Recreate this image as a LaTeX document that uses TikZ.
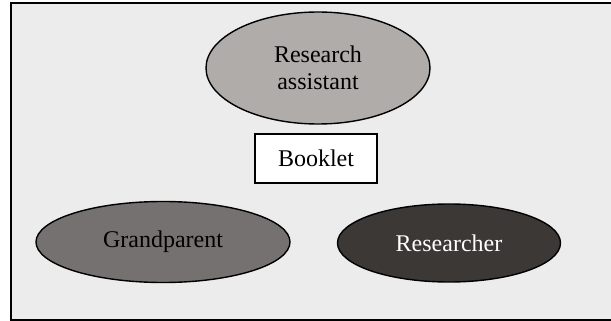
\documentclass[tikz,border=0pt]{standalone}
\usepackage{fontspec}
\setmainfont{Liberation Serif}
\usetikzlibrary{shapes.geometric}
\definecolor{bgc}{RGB}{236,236,236}
\definecolor{rac}{RGB}{176,172,170}
\definecolor{gpc}{RGB}{117,113,112}
\definecolor{rsc}{RGB}{59,56,54}
\tikzset{
  oval/.style={ellipse, draw=black, line width=1.4pt, inner sep=0pt, align=center,
    font=\fontsize{24}{27}\selectfont},
  bookbox/.style={rectangle, draw=black, line width=1.5pt, fill=white, inner sep=0pt,
    minimum width=122pt, minimum height=49pt, font=\fontsize{24}{27}\selectfont}
}
\begin{document}
\begin{tikzpicture}[x=1pt,y=-1pt]
\useasboundingbox (0,0) rectangle (611,321);
\begin{scope}
\clip (0,0) rectangle (611,321);
\draw[fill=bgc, line width=2pt] (11,3.5) rectangle (620,319.5);
\end{scope}
\node[oval, fill=rac, minimum width=224pt, minimum height=112pt] (ra) at (318,68) {Research\\assistant};
\node[bookbox] (bk) at (316,158.5) {Booklet};
\node[oval, fill=gpc, minimum width=254pt, minimum height=81pt] (gp) at (163,242) {Grandparent};
\node[oval, fill=rsc, text=white, minimum width=223pt, minimum height=78pt] (rs) at (449,243) {Researcher};
\end{tikzpicture}
\end{document}
